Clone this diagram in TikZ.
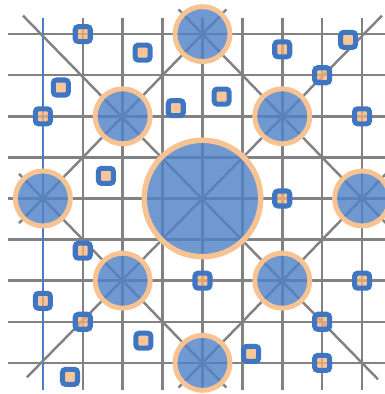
\documentclass[tikz,border=0pt]{standalone}
\usepackage{xcolor}
\usepackage{tikz}
\usetikzlibrary{calc}

\definecolor{gridgray}{HTML}{828282}
\definecolor{axisblue}{HTML}{4A7DC4}
\definecolor{discblue}{HTML}{5183C8}
\definecolor{rimorange}{HTML}{F8C393}
\definecolor{tileblue}{HTML}{3F76C3}
\definecolor{tilefill}{HTML}{F7B378}

\begin{document}
\begin{tikzpicture}[
        x=0.399cm, y=0.411cm,
        gline/.style={gridgray, line width=0.7pt},
        hub/.style={circle, draw=rimorange, fill=discblue, fill opacity=0.82, line width=1.55pt, minimum size=1.165cm, inner sep=0pt},
        ring/.style={hub, minimum size=0.55cm, line width=1.4pt},
        tile/.style={rectangle, draw=tileblue, fill=tilefill, fill opacity=0.75, line width=1.45pt, rounded corners=0.9pt, minimum size=0.15cm, inner sep=0pt},
    ]
        \clip (-5.075,-4.757) rectangle (4.574,4.830);

        % Centres of the discs
        \coordinate (c0) at (0,0);
        \coordinate (cw) at (-4,0);
        \coordinate (ce) at (4,0);
        \coordinate (cn) at (0,4);
        \coordinate (cs) at (0,-4);
        \coordinate (cnw) at (-2,2);
        \coordinate (cne) at (2,2);
        \coordinate (csw) at (-2,-2);
        \coordinate (cse) at (2,-2);

        % Grid
        \foreach \i in {-3,...,4} \draw[gline] (\i,-4.65) -- (\i,4.4);
        \foreach \j in {-4,...,4} \draw[gline] (-4.87,\j) -- (4.7,\j);
        \draw[axisblue, line width=0.6pt] (-4,-4.65) -- (-4,4.4);

        % Diagonals
        \draw[gline] (-4.5,4.45) -- (4.4,-4.4);
        \draw[gline] (-4.4,-4.35) -- (4.5,4.45);
        \draw[gline] ($(cw)!-0.15!(cn)$) -- ($(cn)!-0.15!(cw)$);
        \draw[gline] ($(cn)!-0.15!(ce)$) -- ($(ce)!-0.15!(cn)$);
        \draw[gline] ($(ce)!-0.15!(cs)$) -- ($(cs)!-0.15!(ce)$);
        \draw[gline] ($(cs)!-0.15!(cw)$) -- ($(cw)!-0.15!(cs)$);

        % Discs
        \node[hub] (core) at (c0) {};
        \node[ring] (west) at (cw) {};
        \node[ring] (east) at (ce) {};
        \node[ring] (north) at (cn) {};
        \node[ring] (south) at (cs) {};
        \node[ring] (nwest) at (cnw) {};
        \node[ring] (neast) at (cne) {};
        \node[ring] (swest) at (csw) {};
        \node[ring] (seast) at (cse) {};

        % Tiles
        \node[tile] (t1) at (-3,4) {};
        \node[tile] (t2) at (-1.5,3.55) {};
        \node[tile] (t3) at (-3.55,2.7) {};
        \node[tile] (t4) at (-4,2) {};
        \node[tile] (t5) at (-0.67,2.2) {};
        \node[tile] (t6) at (0.48,2.48) {};
        \node[tile] (t7) at (2,3.63) {};
        \node[tile] (t8) at (3.65,3.86) {};
        \node[tile] (t9) at (3,3) {};
        \node[tile] (t10) at (4,2) {};
        \node[tile] (t11) at (-2.42,0.55) {};
        \node[tile] (t12) at (2,0) {};
        \node[tile] (t13) at (-3,-1.27) {};
        \node[tile] (t14) at (0,-2) {};
        \node[tile] (t15) at (4,-2) {};
        \node[tile] (t16) at (-4,-2.49) {};
        \node[tile] (t17) at (-3,-3) {};
        \node[tile] (t18) at (3,-3) {};
        \node[tile] (t19) at (-1.48,-3.46) {};
        \node[tile] (t20) at (1.22,-3.78) {};
        \node[tile] (t21) at (3,-4) {};
        \node[tile] (t22) at (-3.32,-4.34) {};
    \end{tikzpicture}
\end{document}
